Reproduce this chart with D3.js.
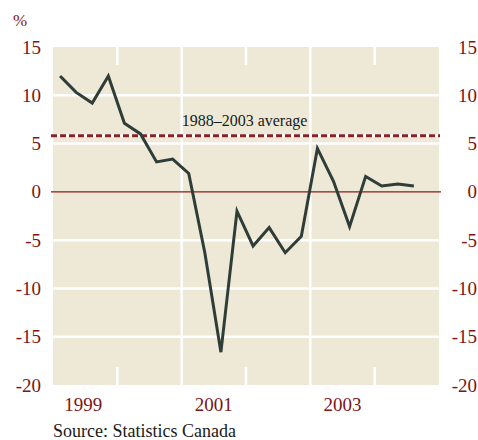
<!DOCTYPE html>
<html>
<head>
<meta charset="utf-8">
<script src="https://cdn.jsdelivr.net/npm/d3@7"></script>
</head>
<body style="margin:0">
<script>
// Quarterly growth, % (annualized)
const quarters = [
    "1999Q1", "1999Q2", "1999Q3", "1999Q4",
    "2000Q1", "2000Q2", "2000Q3", "2000Q4",
    "2001Q1", "2001Q2", "2001Q3", "2001Q4",
    "2002Q1", "2002Q2", "2002Q3", "2002Q4",
    "2003Q1", "2003Q2", "2003Q3", "2003Q4",
    "2004Q1", "2004Q2", "2004Q3"
];
const values = [
    12.0, 10.3, 9.2, 12.0,
    7.1, 6.0, 3.1, 3.4,
    1.9, -6.3, -16.6, -2.0,
    -5.6, -3.7, -6.3, -4.6,
    4.5, 1.1, -3.6, 1.6,
    0.6, 0.8, 0.6
];
const average = 5.8;
const yTicks = [15, 10, 5, 0, -5, -10, -15, -20];
const yearLabels = [1999, 2001, 2003];
const yearLines = [2001, 2003];
const yearStubs = [2000, 2002, 2004];

const width = 478;
const height = 440;
const margin = { top: 47, right: 39, bottom: 55, left: 53 };

const red = "#7d1416";
const bg = "#eee8d6";
const serif = "Liberation Serif";

// quarter -> decimal year, placed a little into the quarter
const data = quarters.map((q, i) => ({
    t: +q.slice(0, 4) + (+q.slice(5) - 1) / 4 + 0.11,
    v: values[i]
}));

const x = d3.scaleLinear()
    .domain([1999, 2005])
    .range([margin.left, width - margin.right]);

const y = d3.scaleLinear()
    .domain([-20, 15])
    .range([height - margin.bottom, margin.top]);

const svg = d3.select("body").append("svg")
    .attr("width", width)
    .attr("height", height);

// plot background
svg.append("rect")
    .attr("x", x(1999))
    .attr("y", y(15))
    .attr("width", x(2005) - x(1999))
    .attr("height", y(-20) - y(15))
    .attr("fill", bg);

// horizontal gridlines
svg.append("g")
    .selectAll("line")
    .data(yTicks.filter(d => d !== 0 && d !== 15 && d !== -20))
    .join("line")
    .attr("x1", x(1999))
    .attr("x2", x(2005))
    .attr("y1", d => y(d))
    .attr("y2", d => y(d))
    .attr("stroke", "#fff")
    .attr("stroke-width", 2.5);

// vertical gridlines at odd years
svg.append("g")
    .selectAll("line")
    .data(yearLines)
    .join("line")
    .attr("x1", d => x(d))
    .attr("x2", d => x(d))
    .attr("y1", y(15))
    .attr("y2", y(-20))
    .attr("stroke", "#fff")
    .attr("stroke-width", 2.5);

// short stubs at even years, top and bottom
const stubs = svg.append("g");
yearStubs.forEach(d => {
    stubs.append("line")
        .attr("x1", x(d)).attr("x2", x(d))
        .attr("y1", y(15)).attr("y2", y(15) + 18)
        .attr("stroke", "#fff").attr("stroke-width", 2.5);
    stubs.append("line")
        .attr("x1", x(d)).attr("x2", x(d))
        .attr("y1", y(-20) - 18).attr("y2", y(-20))
        .attr("stroke", "#fff").attr("stroke-width", 2.5);
});

// zero line
svg.append("line")
    .attr("x1", x(1999) - 2)
    .attr("x2", x(2005) + 2)
    .attr("y1", y(0))
    .attr("y2", y(0))
    .attr("stroke", "#8b1a1a")
    .attr("stroke-width", 1.2);

// average line
svg.append("line")
    .attr("x1", x(1999) - 2)
    .attr("x2", x(2005) + 1)
    .attr("y1", y(average))
    .attr("y2", y(average))
    .attr("stroke", "#fff")
    .attr("stroke-width", 3);

svg.append("line")
    .attr("x1", x(1999) - 2)
    .attr("x2", x(2005) + 1)
    .attr("y1", y(average))
    .attr("y2", y(average))
    .attr("stroke", "#86232a")
    .attr("stroke-width", 3)
    .attr("stroke-dasharray", "6,3");

// series line
const line = d3.line()
    .x(d => x(d.t))
    .y(d => y(d.v));

svg.append("path")
    .datum(data)
    .attr("d", line)
    .attr("fill", "none")
    .attr("stroke", "#2f3d39")
    .attr("stroke-width", 3)
    .attr("stroke-linejoin", "miter");

svg.append("text")
    .attr("x", x(2001))
    .attr("y", y(average) - 9.5)
    .attr("fill", "#1a1a1a")
    .style("font-family", `"${serif}"`)
    .style("font-size", "16px")
    .text("1988\u20132003 average");

// y tick labels, both sides
const fmt = d => d < 0 ? "-" + Math.abs(d) : String(d);
[41, 477].forEach(xp => {
    yTicks.forEach(d => {
        svg.append("text")
            .attr("x", xp)
            .attr("y", y(d) + 6.5)
            .attr("text-anchor", "end")
            .attr("fill", red)
            .style("font-family", `"${serif}"`)
            .style("font-size", "19px")
            .text(fmt(d));
    });
});

svg.append("text")
    .attr("x", 13)
    .attr("y", 26)
    .attr("fill", red)
    .style("font-family", `"${serif}"`)
    .style("font-size", "17px")
    .text("%");

// year labels
yearLabels.forEach(d => {
    svg.append("text")
        .attr("x", x(d + 0.5) - (d === 1999 ? 2 : 0))
        .attr("y", 411)
        .attr("text-anchor", "middle")
        .attr("fill", red)
        .style("font-family", `"${serif}"`)
        .style("font-size", "19px")
        .text(d);
});

svg.append("text")
    .attr("x", 53)
    .attr("y", 437)
    .attr("fill", "#1a1a1a")
    .style("font-family", `"${serif}"`)
    .style("font-size", "18px")
    .text("Source: Statistics Canada");
</script>
</body>
</html>
